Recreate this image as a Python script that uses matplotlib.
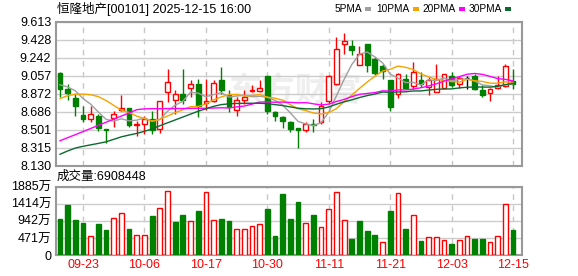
import matplotlib
matplotlib.use('Agg')
import matplotlib.pyplot as plt
from matplotlib.patches import Rectangle
import numpy as np

plt.rcParams['font.family'] = ['Liberation Sans', 'Noto Sans CJK SC']

# daily candles, 2025-09-18 .. 2025-12-15
opens = [9.084, 8.914, 8.831, 8.655, 8.610, 8.644, 8.506, 8.620, 8.703, 8.724,
         8.544, 8.558, 8.610, 8.506, 8.886, 8.807, 8.869, 8.931, 8.966, 8.772,
         8.800, 9.008, 8.852, 8.703, 8.807, 8.897, 8.897, 9.049, 8.686, 8.634,
         8.575, 8.513, 8.495, 8.558, 8.575, 8.800, 8.973, 9.378, 9.360, 9.163,
         9.381, 9.232, 9.153, 9.014, 8.869, 9.025, 8.945, 9.008, 8.938, 8.886,
         8.931, 9.049, 8.966, 9.035, 9.049, 8.911, 8.879, 8.931, 8.945, 8.997]
closes = [8.921, 8.876, 8.748, 8.606, 8.661, 8.513, 8.500, 8.661, 8.724, 8.551,
          8.554, 8.610, 8.495, 8.800, 8.987, 8.869, 8.810, 8.966, 8.748, 8.800,
          8.980, 8.911, 8.738, 8.807, 8.835, 8.911, 8.928, 8.689, 8.644, 8.592,
          8.506, 8.495, 8.558, 8.552, 8.748, 9.049, 9.336, 9.409, 9.319, 9.277,
          9.163, 9.084, 9.104, 8.731, 9.077, 8.931, 9.094, 8.966, 9.008, 9.025,
          9.070, 8.956, 9.030, 9.035, 8.921, 8.862, 8.914, 8.956, 9.160, 8.966]
highs = [9.090, 8.966, 8.869, 8.748, 8.748, 8.661, 8.506, 8.689, 8.852, 8.724,
         8.585, 8.644, 8.696, 8.800, 9.121, 8.910, 9.121, 9.008, 9.025, 9.018,
         9.008, 9.146, 8.904, 8.835, 8.904, 8.956, 9.008, 9.049, 8.696, 8.644,
         8.585, 8.513, 8.575, 8.610, 8.783, 9.060, 9.457, 9.492, 9.422, 9.360,
         9.388, 9.250, 9.174, 9.014, 9.084, 9.070, 9.198, 9.094, 9.042, 9.174,
         9.070, 9.094, 9.049, 9.049, 9.070, 8.956, 8.931, 9.049, 9.174, 9.129]
lows = [8.834, 8.810, 8.644, 8.575, 8.575, 8.488, 8.367, 8.530, 8.696, 8.523,
        8.436, 8.454, 8.454, 8.464, 8.783, 8.661, 8.765, 8.834, 8.627, 8.703,
        8.783, 8.869, 8.679, 8.644, 8.765, 8.890, 8.887, 8.661, 8.592, 8.516,
        8.480, 8.315, 8.471, 8.471, 8.558, 8.765, 8.956, 9.284, 9.267, 9.163,
        9.094, 9.060, 9.025, 8.696, 8.824, 8.914, 8.921, 8.938, 8.852, 8.886,
        8.931, 8.938, 8.931, 8.921, 8.911, 8.841, 8.793, 8.921, 8.938, 8.921]

# volume in 万
vols = [993, 1379, 966, 883, 515, 855, 690, 1011, 1149, 717,
        543, 543, 1076, 1287, 1756, 910, 1103, 929, 1214, 1729,
        956, 993, 938, 708, 708, 791, 855, 1269, 524, 1683,
        993, 1462, 874, 1103, 763, 1260, 1729, 956, 441, 938,
        662, 552, 359, 1214, 1701, 717, 1094, 386, 487, 487,
        405, 303, 405, 515, 441, 441, 359, 515, 1398, 690.8448]

ma5 = [8.962, 8.940, 8.900, 8.820, 8.762, 8.681, 8.606, 8.588, 8.612, 8.590,
       8.598, 8.620, 8.587, 8.602, 8.689, 8.752, 8.792, 8.886, 8.876, 8.839,
       8.861, 8.881, 8.835, 8.847, 8.854, 8.840, 8.844, 8.834, 8.801, 8.753,
       8.672, 8.585, 8.559, 8.541, 8.572, 8.680, 8.849, 9.019, 9.172, 9.278,
       9.301, 9.250, 9.189, 9.072, 9.032, 8.985, 8.987, 8.960, 9.015, 9.005,
       9.033, 9.005, 9.018, 9.023, 9.002, 8.961, 8.952, 8.938, 8.963, 8.972]
ma10 = [8.820, 8.850, 8.866, 8.866, 8.860, 8.840, 8.800, 8.750, 8.700, 8.676,
        8.639, 8.613, 8.588, 8.607, 8.640, 8.675, 8.706, 8.737, 8.739, 8.764,
        8.807, 8.837, 8.861, 8.862, 8.846, 8.851, 8.862, 8.835, 8.824, 8.804,
        8.756, 8.715, 8.697, 8.671, 8.662, 8.676, 8.717, 8.789, 8.856, 8.925,
        8.991, 9.050, 9.104, 9.122, 9.155, 9.143, 9.119, 9.075, 9.044, 9.018,
        9.009, 8.996, 8.989, 9.019, 9.004, 8.997, 8.979, 8.978, 8.993, 8.987]
ma20 = [8.385, 8.417, 8.448, 8.480, 8.512, 8.544, 8.576, 8.608, 8.640, 8.672,
        8.706, 8.714, 8.716, 8.716, 8.717, 8.717, 8.718, 8.719, 8.720, 8.720,
        8.723, 8.725, 8.724, 8.734, 8.743, 8.763, 8.784, 8.786, 8.782, 8.784,
        8.781, 8.776, 8.779, 8.766, 8.754, 8.763, 8.790, 8.812, 8.840, 8.864,
        8.873, 8.882, 8.900, 8.897, 8.909, 8.910, 8.918, 8.932, 8.950, 8.972,
        9.000, 9.023, 9.046, 9.071, 9.079, 9.070, 9.049, 9.026, 9.018, 9.003]
ma30 = [8.246, 8.280, 8.310, 8.328, 8.343, 8.358, 8.374, 8.400, 8.426, 8.444,
        8.461, 8.483, 8.506, 8.540, 8.570, 8.600, 8.630, 8.660, 8.690, 8.715,
        8.740, 8.758, 8.766, 8.770, 8.771, 8.772, 8.772, 8.768, 8.758, 8.748,
        8.734, 8.721, 8.715, 8.713, 8.716, 8.734, 8.762, 8.787, 8.807, 8.831,
        8.851, 8.867, 8.887, 8.885, 8.888, 8.890, 8.899, 8.899, 8.908, 8.916,
        8.919, 8.920, 8.930, 8.937, 8.940, 8.939, 8.938, 8.947, 8.964, 8.977]

date_labels = ['09-23', '10-06', '10-17', '10-30', '11-11', '11-21', '12-03', '12-15']
date_idx = [3, 11, 19, 27, 35, 43, 51, 59]

price_ticks = [8.130, 8.315, 8.501, 8.686, 8.872, 9.057, 9.242, 9.428, 9.613]
vol_ticks = [0, 471.25, 942.5, 1413.75, 1885]
vol_labels = ['0', '471万', '942万', '1414万', '1885万']

RED = '#ff0000'
GREEN = '#008000'
MA_COLORS = ['#a0a0a0', '#f5a400', '#ff00ff', '#0b6b2f']

W, H = 578, 276
def fx(px):
    return px / W
def fy(py):
    return 1 - py / H

fig = plt.figure(figsize=(W / 100, H / 100), dpi=100)
ax = fig.add_axes([fx(56), fy(165.5), fx(522) - fx(56), (165.5 - 21.7) / H])
axv = fig.add_axes([fx(56), fy(255), fx(522) - fx(56), (255 - 186.5) / H])

x = np.arange(len(closes))
o = np.array(opens)
c = np.array(closes)
hi = np.array(highs)
lo = np.array(lows)
bw = 0.62

for a in (ax, axv):
    a.set_xlim(-0.52, 60.16)
    a.set_xticks(date_idx)
    a.grid(axis='x', color='#c8c8c8', linestyle=(0, (4, 4)), linewidth=1)
    a.grid(axis='y', color='#cccccc', linestyle='-', linewidth=1)
    a.set_axisbelow(True)
    for s in a.spines.values():
        s.set_color('#999999')
        s.set_linewidth(1.5)
    a.tick_params(length=0, labelsize=9)

# watermark
ax.text(0.513, 0.51, '东方财富', transform=ax.transAxes, fontsize=24,
        fontweight='bold', color='#eeeeee', ha='center', va='center', zorder=0.1)

# candles
for i in x:
    if c[i] > o[i]:
        col, face = RED, 'white'
    elif c[i] < o[i]:
        col, face = GREEN, GREEN
    else:
        col, face = 'black', 'black'
    ax.vlines(i, lo[i], hi[i], color=col, linewidth=1, zorder=2)
    if c[i] == o[i]:
        ax.hlines(c[i], i - bw / 2, i + bw / 2, color=col, linewidth=1, zorder=3)
    else:
        ax.bar(i, abs(c[i] - o[i]), bottom=min(o[i], c[i]), width=bw,
               facecolor=face, edgecolor=col, linewidth=1, zorder=3)

for ma, col in zip([ma5, ma10, ma20, ma30], MA_COLORS):
    ax.plot(x, ma, color=col, linewidth=1, zorder=4)

ax.set_ylim(8.130, 9.613)
ax.set_yticks(price_ticks)
ax.set_yticklabels(['%.3f' % t for t in price_ticks])
ax.set_xticklabels([])

# volume bars, colour by close vs previous close
prev = np.concatenate([[np.inf], c[:-1]])
for i in x:
    if c[i] > prev[i]:
        axv.bar(i, vols[i], width=bw, facecolor='white', edgecolor=RED, linewidth=1, zorder=3)
    else:
        axv.bar(i, vols[i], width=bw, facecolor=GREEN, edgecolor=GREEN, linewidth=1, zorder=3)

axv.set_ylim(0, 1885)
axv.set_yticks(vol_ticks)
axv.set_yticklabels(vol_labels)
axv.set_xticklabels(date_labels, color=RED, fontsize=9)
axv.tick_params(axis='x', pad=3)

# title and labels
fig.text(fx(57), fy(9), '恒隆地产[00101] 2025-12-15 16:00', fontsize=9,
         ha='left', va='center')
fig.text(fx(57), fy(177), '成交量:6908448', fontsize=9, ha='left', va='center')

# legend: name, then a small colour bar
leg_names = ['5PMA', '10PMA', '20PMA', '30PMA']
leg_box_x = [365, 413, 459, 505]
for name, bx, col in zip(leg_names, leg_box_x, MA_COLORS):
    fig.text(fx(bx - 3), fy(9), name, fontsize=7.3, ha='right', va='center')
    fig.patches.append(Rectangle((fx(bx), fy(10.5)), 6 / W, 3 / H,
                                 transform=fig.transFigure, facecolor=col,
                                 edgecolor='none'))

fig.savefig('out.png', dpi=100)
